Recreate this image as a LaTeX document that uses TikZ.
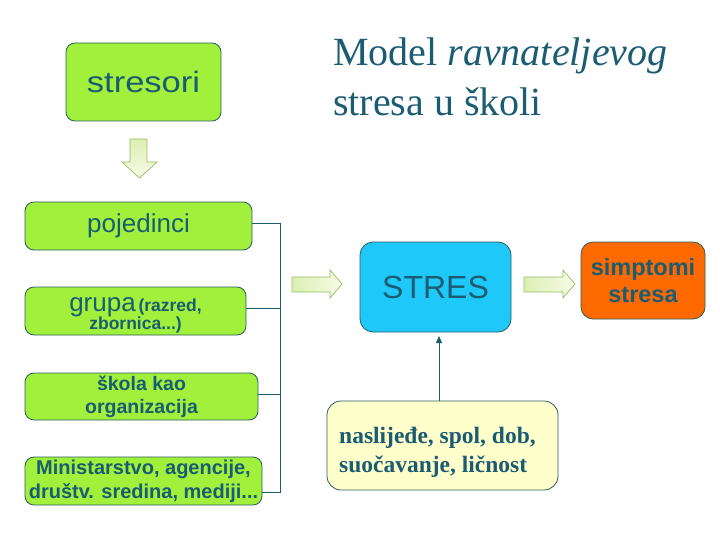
\documentclass[tikz,border=0pt]{standalone}
\usepackage{fontspec}
\setmainfont{Liberation Serif}
\setsansfont{Liberation Sans}
\usetikzlibrary{arrows.meta}
\definecolor{txt}{HTML}{1B5C72}
\definecolor{bord}{HTML}{2A5E5E}
\definecolor{lime}{HTML}{A0F03C}
\definecolor{cyanb}{HTML}{1EC8F8}
\definecolor{orng}{HTML}{FF6A00}
\definecolor{yel}{HTML}{FFFFCC}
\definecolor{arrtop}{HTML}{DCEFB4}
\definecolor{arrbot}{HTML}{F7FBE6}
\definecolor{arrbord}{HTML}{93BF5E}
\tikzset{
  gbox/.style={draw=bord, line width=0.8pt, fill=lime, rounded corners=9pt, inner sep=0pt, align=center, text=txt, font=\sffamily},
  blockarr/.style={draw=arrbord, line width=0.7pt, line join=miter},
  wire/.style={draw=txt, line width=0.8pt},
}
\begin{document}
\begin{tikzpicture}[x=1pt,y=-1pt]
\useasboundingbox (0,0) rectangle (720,540);
% title
\node[anchor=north west, align=left, text=txt, font=\fontsize{40}{50}\selectfont, inner sep=0pt] (title) at (333,38) {Model \textit{ravnateljevog}\\stresa u školi};
% stresori
\node[gbox, minimum width=155pt, minimum height=78pt, font=\sffamily\fontsize{29.5}{34}\selectfont] (stresori) at (143.5,82) {\scalebox{1.17}[1]{stresori}};
% down block arrow
\path[blockarr, top color=arrtop, bottom color=arrbot]
  (130,139) -- (147,139) -- (147,162) -- (157,162) -- (139.5,178) -- (122,162) -- (130,162) -- cycle;
% left boxes
\node[gbox, minimum width=227pt, minimum height=48pt, font=\sffamily\fontsize{26}{28}\selectfont] (poj) at (138.5,226) {pojedinci};
\node[gbox, minimum width=221pt, minimum height=48pt] (grupa) at (135.5,311) {};
\node[text=txt, font=\sffamily, align=center, inner sep=0pt] (grupat) at (135.5,315) {{\fontsize{26}{26}\selectfont grupa} {\bfseries\fontsize{17.5}{20}\selectfont (razred,}\\[-1pt]{\bfseries\fontsize{17.5}{20}\selectfont zbornica...)}};
\node[gbox, minimum width=233pt, minimum height=47pt, font=\sffamily\bfseries\fontsize{19.5}{23}\selectfont] (skola) at (141.5,396.5) {škola kao\\organizacija};
\node[gbox, minimum width=237pt, minimum height=48pt, font=\sffamily\bfseries\fontsize{20}{24}\selectfont] (min) at (143.5,481) {Ministarstvo, agencije,\\društv. sredina, mediji...};
% bracket
\coordinate (bt) at (280,223);
\coordinate (bb) at (280,492);
\draw[wire] (poj.east |- bt) -- (bt) -- (bb) -- (min.east |- bb);
\draw[wire] (grupa.east |- 0,308) -- (280,308);
\draw[wire] (skola.east |- 0,394) -- (280,394);
% right block arrow 1
\path[blockarr, left color=arrtop, right color=arrbot]
  (292,277) -- (330,277) -- (330,270) -- (342,284) -- (330,298) -- (330,292) -- (292,292) -- cycle;
% STRES
\node[draw=bord, line width=0.8pt, fill=cyanb, rounded corners=13pt, minimum width=151pt, minimum height=90pt, text=txt, font=\sffamily\fontsize{32}{34}\selectfont] (stres) at (435.5,287) {STRES};
% right block arrow 2
\path[blockarr, left color=arrtop, right color=arrbot]
  (524,277) -- (563,277) -- (563,270) -- (575,284) -- (563,298) -- (563,292) -- (524,292) -- cycle;
% simptomi
\node[draw=bord, line width=0.8pt, fill=orng, rounded corners=12pt, minimum width=124pt, minimum height=77pt, align=center, text=txt, font=\sffamily\bfseries\fontsize{23.5}{27}\selectfont] (simp) at (643,280.5) {simptomi\\stresa};
% yellow box
\node[draw=bord, line width=0.8pt, fill=yel, rounded corners=14pt, minimum width=231pt, minimum height=89pt] (yb) at (442.5,445.5) {};
\node[anchor=base west, align=left, inner sep=0pt, text=txt, font=\bfseries\fontsize{23.5}{29}\selectfont] (ybt) at (339,472) {naslijeđe, spol, dob,\\suočavanje, ličnost};
\draw[wire, -{Triangle[length=7pt,width=6pt]}] (yb.north -| 439,0) -- (439,336);
\end{tikzpicture}
\end{document}
